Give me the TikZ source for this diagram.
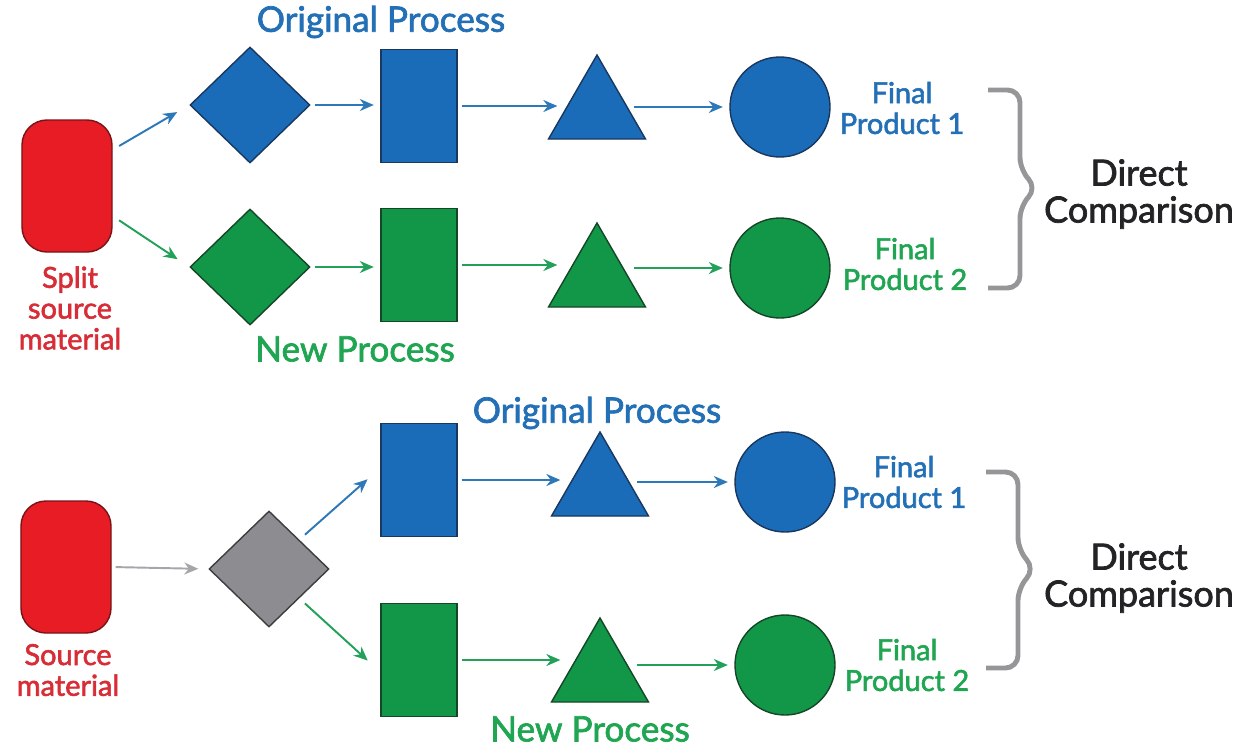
\documentclass[tikz,border=0pt]{standalone}
\usepackage{fontspec}
\setmainfont{Lato}[RawFeature={embolden=2}]
\usepackage{xcolor}
\usepackage{tikz}
\usetikzlibrary{positioning,shapes.geometric,arrows.meta,calc}
\definecolor{BlueFill}{RGB}{27, 108, 184}
\definecolor{BlueLine}{RGB}{25, 55, 95}
\definecolor{BlueText}{RGB}{35, 112, 182}
\definecolor{BlueArrow}{RGB}{45, 120, 185}
\definecolor{GreenFill}{RGB}{18, 150, 72}
\definecolor{GreenLine}{RGB}{22, 70, 40}
\definecolor{GreenText}{RGB}{32, 165, 82}
\definecolor{GreenArrow}{RGB}{35, 160, 90}
\definecolor{RedFill}{RGB}{232, 28, 36}
\definecolor{RedLine}{RGB}{120, 20, 25}
\definecolor{RedText}{RGB}{215, 45, 55}
\definecolor{GrayFill}{RGB}{140, 140, 145}
\definecolor{GrayLine}{RGB}{60, 60, 65}
\definecolor{GrayArrow}{RGB}{165, 165, 170}
\definecolor{BraceGray}{RGB}{150, 150, 152}
\definecolor{Ink}{RGB}{35, 35, 38}
\tikzset{
  shp/.style={draw, line width=0.8pt, inner sep=0pt},
  srcbox/.style={shp, fill=RedFill, draw=RedLine, rounded corners=5mm, minimum width=18mm, minimum height=26.4mm},
  diam/.style={shp, diamond, minimum width=24mm, minimum height=23.2mm},
  box/.style={shp, rectangle, minimum width=15.2mm, minimum height=22.6mm},
  tri/.style={shp, regular polygon, regular polygon sides=3, minimum size=22.4mm},
  prod/.style={shp, circle, minimum size=20mm},
  blueshp/.style={fill=BlueFill, draw=BlueLine},
  greenshp/.style={fill=GreenFill, draw=GreenLine},
  arr/.style={line width=1.1pt, -{Stealth[length=2.8mm,width=2.4mm]}, shorten <=0.8mm, shorten >=1.3mm},
  arrB/.style={arr, draw=BlueArrow},
  arrG/.style={arr, draw=GreenArrow},
  arrX/.style={arr, draw=GrayArrow},
  lbl/.style={font=\fontsize{16.5}{17.5}\selectfont, align=center},
  head/.style={font=\fontsize{20}{22}\selectfont},
  cmp/.style={font=\fontsize{20.5}{21}\selectfont, align=center, text=Ink},
  brc/.style={draw=BraceGray, line width=2.8pt, rounded corners=2.5mm},
}

\begin{document}
\begin{tikzpicture}[x=0.2mm, y=-0.2mm]
\useasboundingbox (0,0) rectangle (1241,747);

% split source, two processes side by side
\node[srcbox] (src1) at (67,186) {};
\node[lbl, text=RedText] (lbSrc1) at (70,308) {Split\\source\\material};
\node[head, text=BlueText] (hdB1) at (381,22) {Original Process};
\node[diam, blueshp] (dB1) at (250,105) {};
\node[box, blueshp] (rB1) at (419,106) {};
\node[tri, blueshp] (tB1) at (597,111) {};
\node[prod, blueshp] (cB1) at (780,107) {};
\node[lbl, text=BlueText] (lbB1) at (902,108) {Final\\Product 1};
\node[diam, greenshp] (dG1) at (250,267) {};
\node[box, greenshp] (rG1) at (419,265) {};
\node[tri, greenshp] (tG1) at (597,279) {};
\node[prod, greenshp] (cG1) at (780,268) {};
\node[lbl, text=GreenText] (lbG1) at (905,264) {Final\\Product 2};
\node[head, text=GreenText] (hdG1) at (355,349) {New Process};
\node[cmp] (cmp1) at (1139,194) {Direct\\Comparison};

\draw[arrB, shorten >=2.8mm] ($(src1.east)+(3,-38)$) -- (dB1.west);
\draw[arrG, shorten >=2.8mm] ($(src1.east)+(3,32)$) -- (dG1.west);
\draw[arrB] (dB1.east) -- (dB1.east -| rB1.west);
\draw[arrB] (rB1.east) -- (tB1.west |- rB1.east);
\draw[arrB] (tB1.east |- cB1.west) -- (cB1.west);
\draw[arrG] (dG1.east) -- (dG1.east -| rG1.west);
\draw[arrG] (rG1.east) -- (tG1.west |- rG1.east);
\draw[arrG] (tG1.east |- cG1.west) -- (cG1.west);
\draw[brc] (988,90) -- (1020,90) -- (1020,170) -- (1037,188) -- (1020,206) -- (1020,288) -- (988,288);

% one source, split after the first step
\node[srcbox] (src2) at (66,567) {};
\node[lbl, text=RedText] (lbSrc2) at (68,670) {Source\\material};
\node[diam, fill=GrayFill, draw=GrayLine] (dX) at (269,569) {};
\node[head, text=BlueText] (hdB2) at (597,413) {Original Process};
\node[box, blueshp] (rB2) at (419,480) {};
\node[tri, blueshp] (tB2) at (600,488) {};
\node[prod, blueshp] (cB2) at (785,482) {};
\node[lbl, text=BlueText] (lbB2) at (904,482) {Final\\Product 1};
\node[box, greenshp] (rG2) at (419,660) {};
\node[tri, greenshp] (tG2) at (600,674) {};
\node[prod, greenshp] (cG2) at (785,665) {};
\node[lbl, text=GreenText] (lbG2) at (907,665) {Final\\Product 2};
\node[head, text=GreenText] (hdG2) at (590,729) {New Process};
\node[cmp] (cmp2) at (1139,578) {Direct\\Comparison};

\draw[arrX, shorten >=2mm] (src2.east) -- (dX.west);
\draw[arrB, shorten <=1.5mm, shorten >=3.4mm] (dX.north east) -- ($(rB2.west)+(0,-12)$);
\draw[arrG, shorten <=1.5mm, shorten >=3.4mm] (dX.south east) -- ($(rG2.west)+(0,12)$);
\draw[arrB] (rB2.east) -- (tB2.west |- rB2.east);
\draw[arrB] (tB2.east |- cB2.west) -- (cB2.west);
\draw[arrG] (rG2.east) -- (tG2.west |- rG2.east);
\draw[arrG] (tG2.east |- cG2.west) -- (cG2.west);
\draw[brc] (986,472) -- (1018,472) -- (1018,550) -- (1035,569) -- (1018,588) -- (1018,668) -- (986,668);
\end{tikzpicture}
\end{document}
